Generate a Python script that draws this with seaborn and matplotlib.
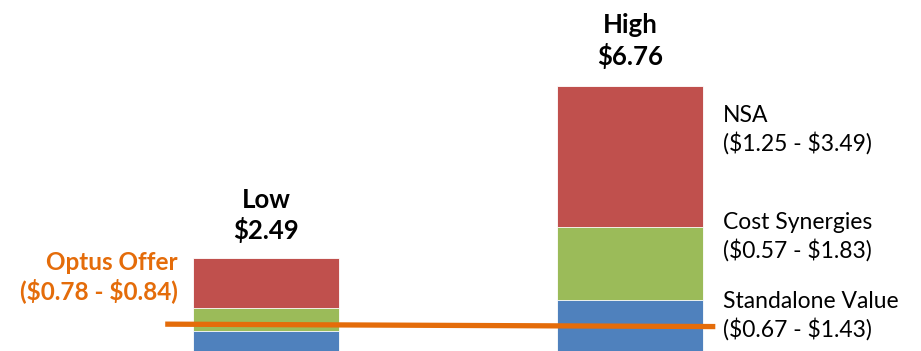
import matplotlib
matplotlib.use("Agg")
import matplotlib.pyplot as plt
import seaborn as sns
import pandas as pd
import numpy as np

# ---- data ----
cases = ["Low", "High"]
standalone = [0.67, 1.43]
synergies = [0.57, 1.83]
nsa = [1.25, 3.49]
totals_label = ["$2.49", "$6.76"]
offer = [0.84, 0.78]
offer_label = "Optus Offer\n($0.78 - $0.84)"
segment_labels = ["NSA\n($1.25 - $3.49)",
                  "Cost Synergies\n($0.57 - $1.83)",
                  "Standalone Value\n($0.67 - $1.43)"]

sns.set_theme(style="white")
plt.rcParams['font.family'] = ['Lato', 'DejaVu Sans']

c_blue = "#4F81BD"
c_green = "#9BBB59"
c_red = "#C0504D"
c_orange = "#E46C0A"

fig = plt.figure(figsize=(9.21, 3.51), dpi=100)
ax = fig.add_axes([0, 0, 1, 1])

s = np.array(standalone)
g = s + np.array(synergies)
t = g + np.array(nsa)
df = pd.DataFrame({"case": cases, "blue": s, "green": g, "total": t})

for col, color in [("total", c_red), ("green", c_green), ("blue", c_blue)]:
    sns.barplot(data=df, x="case", y=col, color=color, width=0.4,
                saturation=1, ax=ax, edgecolor="white", linewidth=0.6)

# offer line
ax.plot([-0.277, 1.234], offer, color=c_orange, lw=3.8, solid_capstyle="butt", zorder=5)

ax.set_xlim(-0.7308, 1.799)
ax.set_ylim(0.174, 8.88)
ax.axis("off")

# totals above bars
offs = [0.36, 0.42]
for i, (c, lab) in enumerate(zip(cases, totals_label)):
    ax.text(i, t[i] + offs[i], f"{c}\n{lab}", ha="center", va="bottom",
            fontsize=18.5, fontweight="bold", color="black", linespacing=1.25,
            parse_math=False)

# segment labels (right of High bar)
xr = 1.255
ys = [5.66, 3.0, 1.05]
for lab, yy in zip(segment_labels, ys):
    ax.text(xr, yy, lab, ha="left", va="center", fontsize=16.5,
            color="black", linespacing=1.3, parse_math=False)

ax.text(-0.242, 2.0, offer_label, ha="right", va="center", fontsize=17.5,
        fontweight="bold", color=c_orange, linespacing=1.2, parse_math=False)

fig.savefig("out.png", dpi=100)
